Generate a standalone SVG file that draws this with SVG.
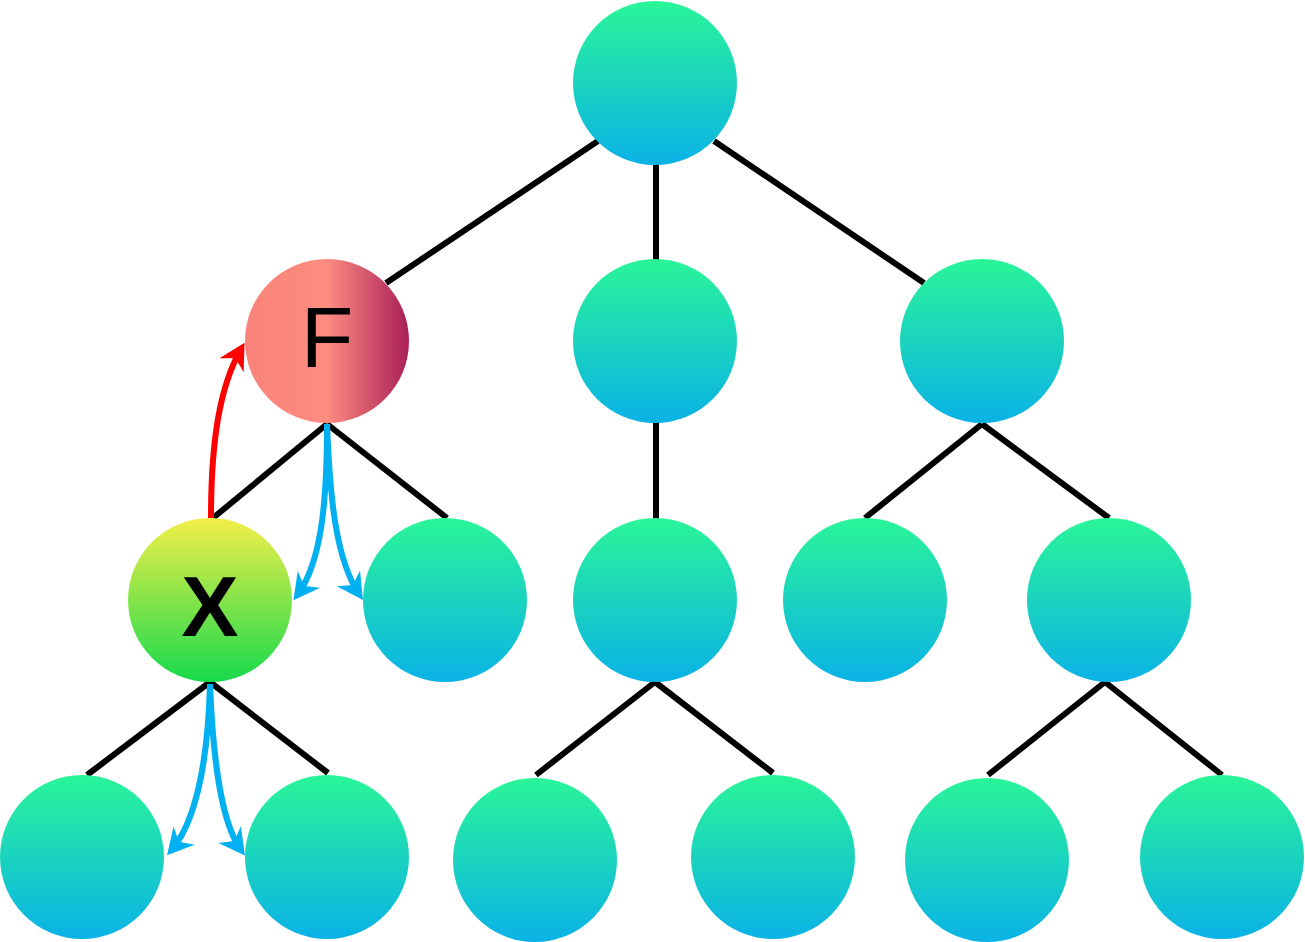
<svg xmlns="http://www.w3.org/2000/svg" width="1305" height="942" viewBox="0 0 1305 942">
<style>
.edge{stroke:#000;stroke-width:6;fill:none}
.n{fill:url(#gT)}
.arrB{stroke:#00b0f0;stroke-width:6;fill:none;marker-end:url(#mB)}
.arrR{stroke:#ff0000;stroke-width:6;fill:none;marker-end:url(#mR)}
.lbl{font-family:"Liberation Sans",Arial,sans-serif;font-size:86px;fill:#000;text-anchor:middle}
</style>
<defs>
<linearGradient id="gT" x1="0" y1="0" x2="0" y2="1">
<stop offset="0" stop-color="#2af598"/>
<stop offset="1" stop-color="#0ab2e6"/>
</linearGradient>
<linearGradient id="gX" x1="0" y1="0" x2="0" y2="1">
<stop offset="0" stop-color="#f2ef48"/>
<stop offset="1" stop-color="#17d94c"/>
</linearGradient>
<linearGradient id="gF" x1="0" y1="0" x2="1" y2="0">
<stop offset="0" stop-color="#f9837a"/>
<stop offset="0.5" stop-color="#fd8c80"/>
<stop offset="1" stop-color="#a91f58"/>
</linearGradient>
<marker id="mB" markerUnits="userSpaceOnUse" markerWidth="60" markerHeight="60" refX="0" refY="0" viewBox="-30 -30 60 60" orient="auto" overflow="visible">
<path d="M6,0 L-20,-14 L-12,0 L-20,14 z" fill="#00b0f0"/>
</marker>
<marker id="mR" markerUnits="userSpaceOnUse" markerWidth="60" markerHeight="60" refX="0" refY="0" viewBox="-30 -30 60 60" orient="auto" overflow="visible">
<path d="M6,0 L-20,-14 L-12,0 L-20,14 z" fill="#ff0000"/>
</marker>
</defs>
<g id="connectors">
<line class="edge" x1="598" y1="141" x2="386" y2="283"/>
<line class="edge" x1="714" y1="141" x2="924" y2="283"/>
<line class="edge" x1="656" y1="160" x2="656" y2="262"/>
<line class="edge" x1="656" y1="420" x2="656" y2="520"/>
<line class="edge" x1="327" y1="424" x2="213" y2="518"/>
<line class="edge" x1="327" y1="424" x2="447" y2="518"/>
<line class="edge" x1="982" y1="424" x2="865" y2="518"/>
<line class="edge" x1="982" y1="424" x2="1109" y2="518"/>
<line class="edge" x1="210" y1="682" x2="87" y2="775"/>
<line class="edge" x1="210" y1="682" x2="328" y2="773"/>
<line class="edge" x1="655" y1="682" x2="536" y2="775"/>
<line class="edge" x1="655" y1="682" x2="773" y2="773"/>
<line class="edge" x1="1105" y1="682" x2="988" y2="775"/>
<line class="edge" x1="1105" y1="682" x2="1222" y2="775"/>
</g>
<g id="node-root"><circle class="n" cx="655" cy="83" r="82"/></g>
<g id="node-F"><circle cx="327" cy="341" r="82" fill="url(#gF)"/><text class="lbl" x="327" y="367">F</text></g>
<g id="node-m1"><circle class="n" cx="655" cy="341" r="82"/></g>
<g id="node-r1"><circle class="n" cx="982" cy="341" r="82"/></g>
<g id="node-X"><circle cx="210" cy="600" r="82" fill="url(#gX)"/><text class="lbl" x="210" y="636" font-weight="bold">X</text></g>
<g id="node-f2"><circle class="n" cx="445" cy="600" r="82"/></g>
<g id="node-m2"><circle class="n" cx="655" cy="600" r="82"/></g>
<g id="node-r2a"><circle class="n" cx="865" cy="600" r="82"/></g>
<g id="node-r2b"><circle class="n" cx="1109" cy="600" r="82"/></g>
<g id="node-b1"><circle class="n" cx="82" cy="857" r="82"/></g>
<g id="node-b2"><circle class="n" cx="327" cy="857" r="82"/></g>
<g id="node-b3"><circle class="n" cx="535" cy="860" r="82"/></g>
<g id="node-b4"><circle class="n" cx="773" cy="857" r="82"/></g>
<g id="node-b5"><circle class="n" cx="987" cy="860" r="82"/></g>
<g id="node-b6"><circle class="n" cx="1222" cy="857" r="82"/></g>
<g id="arrows">
<path class="arrR" d="M211,518 C211,440 220,385 241.6,348"/>
<path class="arrB" d="M327,424 C327,500 322,562 297,595.5"/>
<path class="arrB" d="M327,424 C330,500 336,560 359.6,595"/>
<path class="arrB" d="M210,684 C208,760 196,822 171,850.7"/>
<path class="arrB" d="M210,684 C213,760 221,823 241.4,850.7"/>
</g>
</svg>
